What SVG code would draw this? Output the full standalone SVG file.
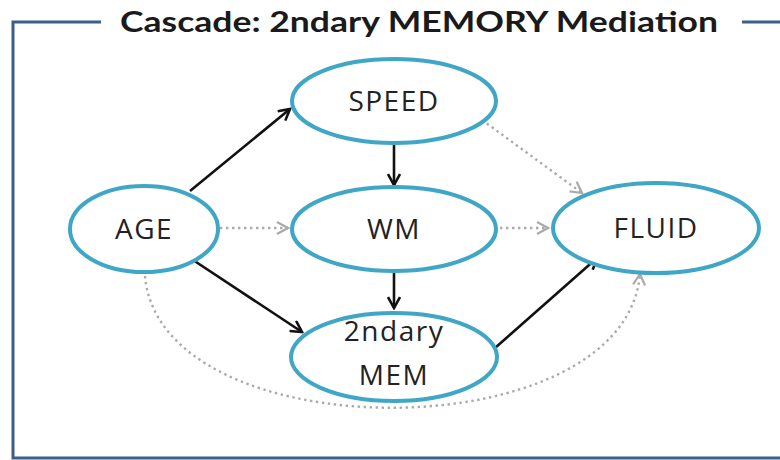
<svg xmlns="http://www.w3.org/2000/svg" width="780" height="460" viewBox="0 0 780 460">
<defs>
<style>
.node{fill:#fff;stroke:#3fa6c5;stroke-width:4}
.lbl{font-family:"Open Sans","Liberation Sans",sans-serif;font-size:28px;letter-spacing:1.5px;fill:#222;text-anchor:middle}
.solid{stroke:#111;stroke-width:2.6;fill:none}
.dot{stroke:#aaa;stroke-width:2.4;fill:none;stroke-dasharray:2.4 3.6}
.frame{stroke:#3b5f8c;stroke-width:3;fill:none}
</style>
<marker id="ab" markerWidth="14" markerHeight="14" refX="12" refY="7" orient="auto" markerUnits="userSpaceOnUse">
<path d="M1,1 L12,7 L1,13" fill="none" stroke="#111" stroke-width="2.6"/>
</marker>
<marker id="ag" markerWidth="14" markerHeight="14" refX="12" refY="7" orient="auto" markerUnits="userSpaceOnUse">
<path d="M1,1 L12,7 L1,13" fill="none" stroke="#aaa" stroke-width="2.2"/>
</marker>
</defs>
<rect width="780" height="460" fill="#fff"/>
<g id="frame">
<path class="frame" d="M101,22 H13 V458 H780"/>
<path class="frame" d="M742,22 H780"/>
<text x="419" y="32" font-family="Lato,'Open Sans','Liberation Sans',sans-serif" font-weight="bold" font-size="29" fill="#1a1a1a" text-anchor="middle" textLength="598" lengthAdjust="spacingAndGlyphs">Cascade: 2ndary MEMORY Mediation</text>
</g>
<g id="connectors">
<path class="dot" d="M220,228 H288" marker-end="url(#ag)"/>
<path class="dot" d="M500,228 H548" marker-end="url(#ag)"/>
<path class="dot" d="M482,120 L582,193" marker-end="url(#ag)"/>
<path class="dot" d="M145,276 C160,452 625,452 640,274" marker-end="url(#ag)"/>
<path class="solid" d="M190,191 L290,109" marker-end="url(#ab)"/>
<path class="solid" d="M394,145 V185" marker-end="url(#ab)"/>
<path class="solid" d="M190,258 L302,332" marker-end="url(#ab)"/>
<path class="solid" d="M394,272 V308" marker-end="url(#ab)"/>
<path class="solid" d="M495,348 L597,258" marker-end="url(#ab)"/>
</g>
<g id="speed"><ellipse class="node" cx="394" cy="101" rx="102" ry="42"/><text class="lbl" x="394" y="111">SPEED</text></g>
<g id="wm"><ellipse class="node" cx="394" cy="229" rx="102" ry="42"/><text class="lbl" x="394" y="239">WM</text></g>
<g id="age"><ellipse class="node" cx="144" cy="229" rx="74" ry="43"/><text class="lbl" x="144" y="239">AGE</text></g>
<g id="fluid"><ellipse class="node" cx="656" cy="228" rx="103" ry="45"/><text class="lbl" x="656" y="238">FLUID</text></g>
<g id="mem"><ellipse class="node" cx="394" cy="357" rx="103" ry="44"/><text class="lbl" x="394" y="341">2ndary</text><text class="lbl" x="394" y="385">MEM</text></g>
</svg>
